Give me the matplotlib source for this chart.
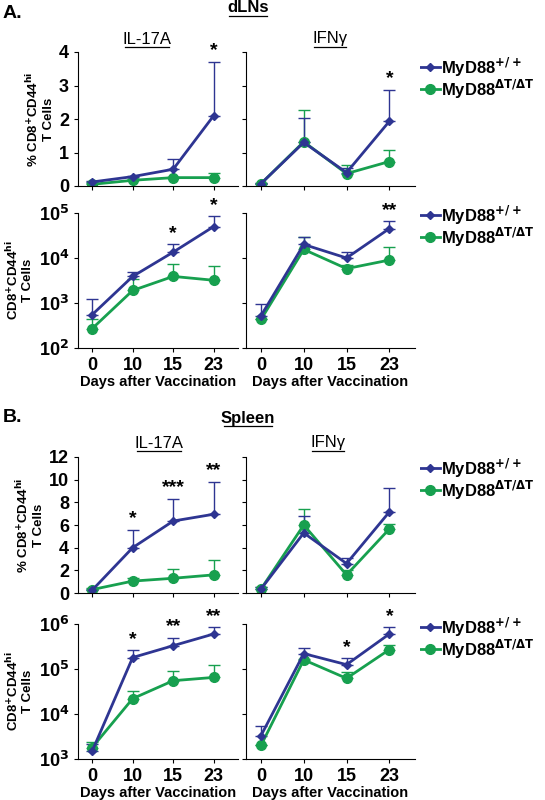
import numpy as np
import matplotlib.pyplot as plt

days = ['0', '10', '15', '23']
blue = '#2e3592'
green = '#17a04f'

# dLNs
a_il17_pct_wt = [0.12, 0.28, 0.5, 2.1]
a_il17_pct_wt_top = [0.15, 0.31, 0.8, 3.7]
a_il17_pct_ko = [0.05, 0.17, 0.25, 0.25]
a_il17_pct_ko_top = [0.1, 0.2, 0.26, 0.38]
a_ifn_pct_wt = [0.07, 1.3, 0.4, 1.93]
a_ifn_pct_wt_top = [0.1, 2.02, 0.55, 2.87]
a_ifn_pct_ko = [0.07, 1.32, 0.37, 0.73]
a_ifn_pct_ko_top = [0.1, 2.28, 0.63, 1.07]
a_il17_n_wt = [550, 3900, 13500, 50000]
a_il17_n_wt_top = [1250, 4800, 20000, 85000]
a_il17_n_ko = [270, 1900, 3900, 3200]
a_il17_n_ko_top = [430, 3500, 7500, 6500]
a_ifn_n_wt = [520, 20000, 10000, 45000]
a_ifn_n_wt_top = [950, 29000, 13500, 65000]
a_ifn_n_ko = [430, 15500, 5800, 9000]
a_ifn_n_ko_top = [450, 29000, 7000, 18000]

# Spleen
b_il17_pct_wt = [0.25, 4.0, 6.35, 6.95]
b_il17_pct_wt_top = [0.35, 5.6, 8.3, 9.8]
b_il17_pct_ko = [0.3, 1.05, 1.3, 1.6]
b_il17_pct_ko_top = [0.4, 1.3, 2.1, 2.9]
b_ifn_pct_wt = [0.35, 5.3, 2.6, 7.15]
b_ifn_pct_wt_top = [0.5, 6.8, 3.1, 9.3]
b_ifn_pct_ko = [0.35, 6.0, 1.6, 5.65]
b_ifn_pct_ko_top = [0.55, 7.45, 2.0, 6.05]
b_il17_n_wt = [1500, 180000, 330000, 600000]
b_il17_n_wt_top = [2200, 260000, 500000, 850000]
b_il17_n_ko = [1800, 22000, 55000, 65000]
b_il17_n_ko_top = [2400, 32000, 90000, 120000]
b_ifn_n_wt = [3300, 220000, 125000, 600000]
b_ifn_n_wt_top = [5300, 300000, 175000, 850000]
b_ifn_n_ko = [2000, 160000, 62000, 270000]
b_ifn_n_ko_top = [2050, 165000, 85000, 340000]

W, H = 545, 800
plt.rcParams['font.family'] = 'Liberation Sans'
plt.rcParams['mathtext.default'] = 'bf'
fig = plt.figure(figsize=(W / 100, H / 100), dpi=100)


def box(x0, y0, x1, y1):
    return [x0 / W, 1 - y1 / H, (x1 - x0) / W, (y1 - y0) / H]


def panel(rect, wt, wt_top, ko, ko_top, ylim, log, stars, yticks,
          ylabel=None, xlabels=False):
    ax = fig.add_axes(rect)
    x = np.arange(4)
    for y, top, c, m, ms in [(ko, ko_top, green, 'o', 7), (wt, wt_top, blue, 'D', 4.5)]:
        y = np.array(y)
        top = np.array(top)
        ax.errorbar(x, y, yerr=[np.zeros(4), top - y], color=c, marker=m, ms=ms,
                    lw=2, elinewidth=1, capsize=4, capthick=1)
    ax.set_xlim(-0.35, 3.6)
    if log:
        ax.set_yscale('log')
    ax.set_ylim(*ylim)
    ax.spines['top'].set_visible(False)
    ax.spines['right'].set_visible(False)
    ax.set_xticks(x)
    ax.tick_params(direction='out', length=3, labelsize=13)
    ax.minorticks_off()
    if xlabels:
        ax.set_xticklabels(days, fontweight='bold')
        ax.set_xlabel('Days after Vaccination', fontsize=10.5, fontweight='bold', labelpad=1)
    else:
        ax.set_xticklabels([])
    ax.set_yticks(yticks[0])
    ax.set_yticklabels(yticks[1], fontweight='bold')
    ax.set_ylim(*ylim)
    if ylabel:
        ax.set_ylabel(ylabel, fontsize=9.5, fontweight='bold', labelpad=3)
    for i, s in stars.items():
        top = max(wt_top[i], ko_top[i])
        yy = top * 1.12 if log else top + (ylim[1] - ylim[0]) * 0.02
        ax.text(i, yy, s, ha='center', va='bottom', fontsize=14, fontweight='bold')
    return ax


def legend(x, y):
    ax = fig.add_axes(box(x, y, x + 125, y + 45))
    ax.axis('off')
    ax.set_xlim(0, 125)
    ax.set_ylim(45, 0)
    ax.plot([0, 20], [10, 10], color=blue, lw=2)
    ax.plot([10], [10], color=blue, marker='D', ms=4.5)
    ax.plot([0, 20], [32, 32], color=green, lw=2)
    ax.plot([10], [32], color=green, marker='o', ms=7)
    ax.text(21, 10, 'MyD88$^{+/+}$', va='center', fontsize=12, fontweight='bold')
    ax.text(21, 32, 'MyD88$^{\\Delta T/\\Delta T}$', va='center', fontsize=12, fontweight='bold')


def title(x, y, s, size, bold, half):
    fig.text(x / W, 1 - y / H, s, fontsize=size, fontweight='bold' if bold else 'normal',
             va='center', ha='center')
    fig.add_artist(plt.Line2D([(x - half) / W, (x + half) / W], [1 - (y + 8) / H] * 2,
                              color='black', lw=0.9))


pct_label = '% CD8$^{+}$CD44$^{hi}$\nT Cells'
n_label = 'CD8$^{+}$CD44$^{hi}$\nT Cells'

lx0, lx1, rx0, rx1 = 78, 238, 246, 415

# A
fig.text(0.005, 1 - 14 / H, 'A.', fontsize=14, fontweight='bold', va='center')
title(248, 8, 'dLNs', 12, True, 19)
title(147, 39, 'IL-17A', 12, False, 22)
title(330, 39, 'IFNγ', 12, False, 16)
pct_ticks = ([0, 1, 2, 3, 4], ['0', '1', '2', '3', '4'])
log_a = ([1e2, 1e3, 1e4, 1e5], ['10$^2$', '10$^3$', '10$^4$', '10$^5$'])
panel(box(lx0, 52, lx1, 186), a_il17_pct_wt, a_il17_pct_wt_top, a_il17_pct_ko, a_il17_pct_ko_top,
      (0, 4), False, {3: '*'}, pct_ticks, pct_label)
panel(box(rx0, 52, rx1, 186), a_ifn_pct_wt, a_ifn_pct_wt_top, a_ifn_pct_ko, a_ifn_pct_ko_top,
      (0, 4), False, {3: '*'}, (pct_ticks[0], [''] * 5))
panel(box(lx0, 213, lx1, 348), a_il17_n_wt, a_il17_n_wt_top, a_il17_n_ko, a_il17_n_ko_top,
      (1e2, 1e5), True, {2: '*', 3: '*'}, log_a, n_label, xlabels=True)
panel(box(rx0, 213, rx1, 348), a_ifn_n_wt, a_ifn_n_wt_top, a_ifn_n_ko, a_ifn_n_ko_top,
      (1e2, 1e5), True, {3: '**'}, (log_a[0], [''] * 4), xlabels=True)
legend(420, 57)
legend(420, 205)

# B
fig.text(0.005, 1 - 417 / H, 'B.', fontsize=14, fontweight='bold', va='center')
title(248, 418, 'Spleen', 12, True, 24)
title(159, 443, 'IL-17A', 12, False, 22)
title(328, 443, 'IFNγ', 12, False, 16)
pct_b = ([0, 2, 4, 6, 8, 10, 12], ['0', '2', '4', '6', '8', '10', '12'])
log_b = ([1e3, 1e4, 1e5, 1e6], ['10$^3$', '10$^4$', '10$^5$', '10$^6$'])
panel(box(lx0, 457, lx1, 593), b_il17_pct_wt, b_il17_pct_wt_top, b_il17_pct_ko, b_il17_pct_ko_top,
      (0, 12), False, {1: '*', 2: '***', 3: '**'}, pct_b, pct_label)
panel(box(rx0, 457, rx1, 593), b_ifn_pct_wt, b_ifn_pct_wt_top, b_ifn_pct_ko, b_ifn_pct_ko_top,
      (0, 12), False, {}, (pct_b[0], [''] * 7))
panel(box(lx0, 624, lx1, 759), b_il17_n_wt, b_il17_n_wt_top, b_il17_n_ko, b_il17_n_ko_top,
      (1e3, 1e6), True, {1: '*', 2: '**', 3: '**'}, log_b, n_label, xlabels=True)
panel(box(rx0, 624, rx1, 759), b_ifn_n_wt, b_ifn_n_wt_top, b_ifn_n_ko, b_ifn_n_ko_top,
      (1e3, 1e6), True, {2: '*', 3: '*'}, (log_b[0], [''] * 4), xlabels=True)
legend(420, 458)
legend(420, 617)

fig.savefig('out.png', dpi=100)
